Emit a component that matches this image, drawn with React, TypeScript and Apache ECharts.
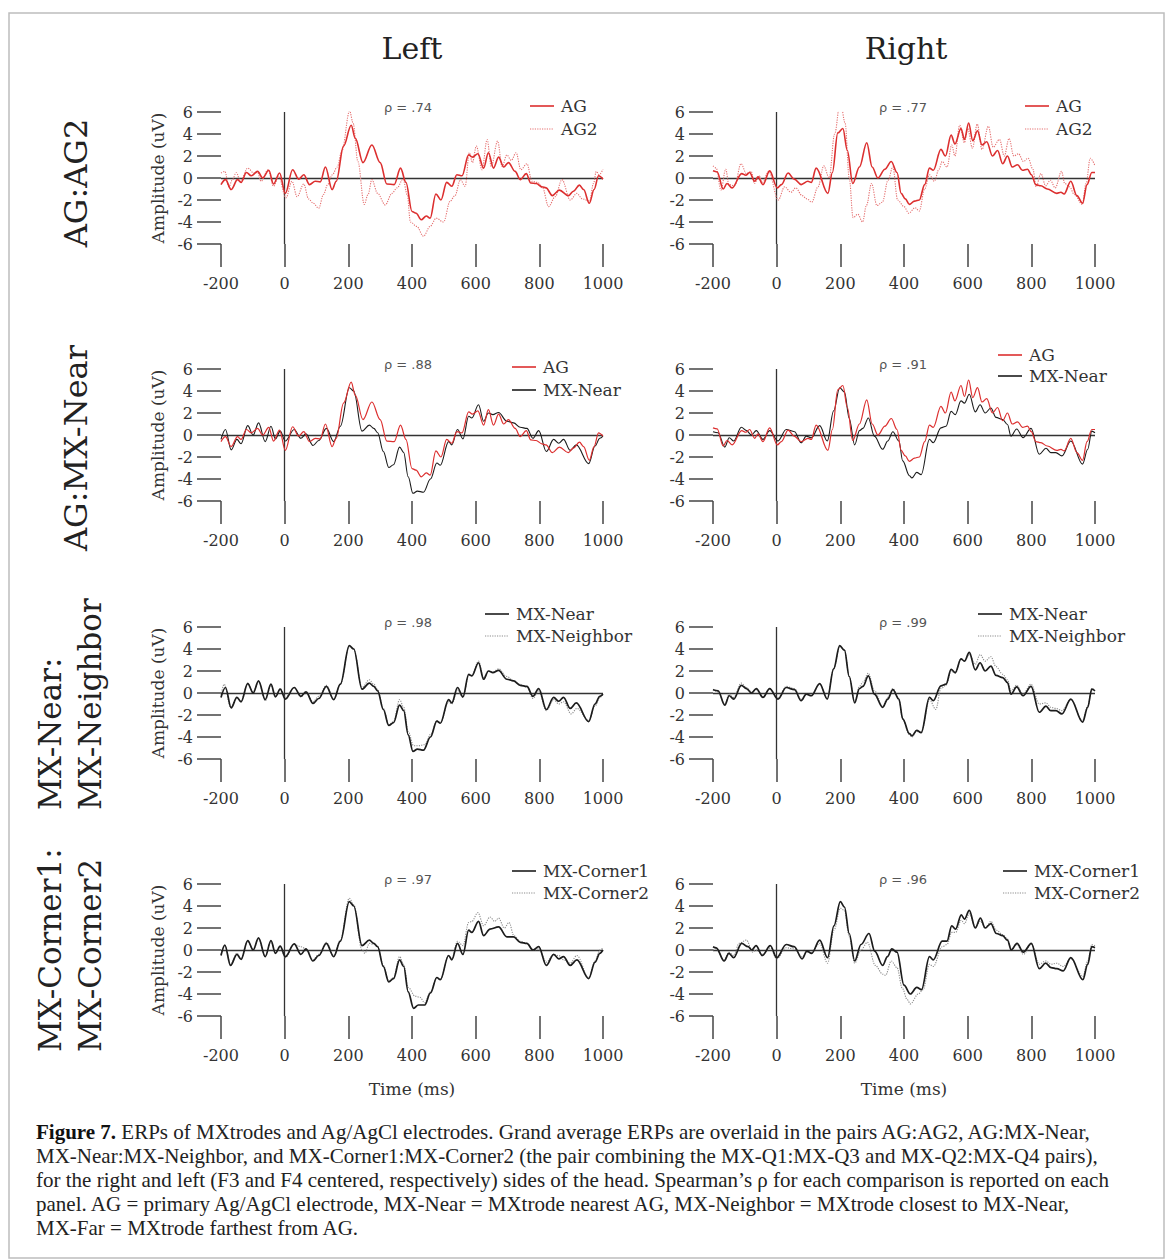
import React, { useEffect, useRef } from "react";
import * as echarts from "echarts";

type Pt = [number, number];

// ---------- data (time in ms, amplitude in uV) ----------
const timeTicks = [-200, 0, 200, 400, 600, 800, 1000];
const ampTicks = [-6, -4, -2, 0, 2, 4, 6];
const columnTitles = ["Left", "Right"];
const rowLabels = [["AG:AG2"], ["AG:MX-Near"], ["MX-Near:", "MX-Neighbor"], ["MX-Corner1:", "MX-Corner2"]];
const rhoValues = [".74", ".77", ".88", ".91", ".98", ".99", ".97", ".96"];

const agLeft: Pt[] = [[-200,-0.6],[-186,-0.15],[-168,-1.05],[-148,-0.15],[-137,-0.4],[-120,0.5],[-105,0.2],[-85,0.6],[-69,0.0],[-50,0.7],[-35,-0.55],[-16,0.45],[2,-1.4],[25,0.75],[44,-0.1],[60,0.3],[78,-0.6],[96,-0.3],[112,-0.35],[128,1.0],[149,-1.05],[162,-0.3],[185,2.9],[209,4.8],[222,3.6],[246,1.4],[274,3.0],[300,1.4],[321,-0.55],[344,-0.6],[364,0.9],[381,-0.4],[400,-3.05],[413,-3.2],[429,-3.8],[445,-3.45],[457,-3.65],[475,-1.45],[491,-2.0],[509,-0.4],[525,-0.75],[541,0.3],[557,0.2],[578,2.1],[590,1.9],[607,2.2],[625,0.9],[640,2.3],[656,0.9],[672,1.9],[688,1.0],[703,1.4],[724,0.6],[740,-0.15],[759,0.4],[773,-0.45],[790,-0.5],[808,-0.8],[821,-0.9],[841,-1.6],[863,-1.1],[891,-1.6],[907,-1.2],[926,-0.65],[939,-1.05],[957,-2.3],[972,-1.05],[986,0.2],[1000,-0.1]];
const ag2Left: Pt[] = [[-200,0.45],[-188,0.6],[-175,-0.8],[-165,-0.2],[-152,0.5],[-139,-0.3],[-116,0.9],[-97,0.45],[-85,0.5],[-74,-0.3],[-52,0.75],[-35,-0.75],[-19,0.15],[4,-1.8],[23,-0.3],[39,-1.7],[60,-0.55],[75,-1.9],[90,-2.3],[107,-2.75],[122,-1.5],[135,-0.6],[150,0.3],[165,1.0],[180,2.5],[204,6.1],[215,5.0],[230,1.5],[250,-2.4],[262,-1.5],[274,-0.15],[292,-1.4],[316,-2.45],[337,-1.4],[353,-0.9],[372,-0.1],[385,-1.5],[395,-4.0],[415,-4.4],[436,-5.3],[457,-4.4],[476,-3.65],[499,-4.0],[520,-2.1],[535,-1.6],[552,-0.15],[567,-0.75],[580,2.3],[590,1.4],[602,2.9],[620,0.75],[636,3.5],[649,1.05],[669,3.35],[683,1.05],[698,2.1],[712,1.6],[727,2.3],[742,0.75],[761,1.3],[777,-0.3],[795,-0.4],[810,-0.9],[829,-2.6],[850,-1.7],[871,-0.15],[897,-2.0],[918,-1.4],[935,-1.9],[958,-2.1],[970,-0.5],[979,0.6],[988,0.3],[1000,0.8]];
const agRight: Pt[] = [[-200,0.65],[-187,0.55],[-168,-1.0],[-156,-0.5],[-140,-0.9],[-110,0.4],[-97,0.25],[-85,0.5],[-69,-0.3],[-59,0.1],[-43,-0.6],[-22,0.65],[2,-0.9],[15,-0.6],[36,0.45],[55,-0.1],[77,-0.6],[98,-0.3],[109,-0.4],[124,0.9],[161,-1.4],[175,0.5],[192,4.1],[208,4.5],[222,2.5],[239,-0.5],[260,1.0],[283,3.2],[300,1.0],[318,0.0],[340,0.8],[360,1.5],[378,0.5],[391,-1.4],[404,-1.9],[417,-2.4],[433,-2.1],[448,-2.0],[465,-0.6],[480,0.9],[492,0.7],[516,2.6],[530,2.0],[548,3.9],[560,3.1],[579,4.5],[590,3.5],[603,5.0],[616,3.4],[631,4.3],[645,3.0],[660,3.3],[678,2.0],[694,2.5],[710,1.3],[725,2.0],[740,1.0],[757,1.2],[772,0.7],[788,0.8],[800,0.3],[814,-0.6],[830,-0.7],[850,-1.0],[880,-1.4],[893,-1.3],[903,-1.45],[924,-0.3],[943,-1.6],[961,-2.3],[975,-0.6],[990,0.5],[1000,0.5]];
const ag2Right: Pt[] = [[-200,1.1],[-190,0.9],[-175,-1.1],[-160,0.8],[-150,-0.6],[-132,-0.7],[-112,1.3],[-95,0.4],[-80,0.6],[-70,-0.5],[-55,0.2],[-45,-0.4],[-25,0.6],[5,-2.0],[25,-0.8],[45,-1.3],[60,-0.9],[80,-1.6],[95,-1.9],[110,-2.2],[130,-0.8],[148,1.1],[165,0.0],[182,4.0],[200,7.0],[215,5.0],[228,0.0],[240,-3.6],[255,-3.3],[270,-4.0],[282,-2.5],[298,-0.5],[315,-2.5],[332,-2.2],[350,-0.2],[365,1.0],[380,-2.0],[400,-2.6],[415,-3.2],[435,-2.7],[448,-3.0],[465,-1.0],[480,0.3],[495,-0.3],[510,0.8],[520,1.5],[535,1.0],[550,3.0],[560,2.0],[575,4.8],[590,3.2],[600,4.5],[615,2.7],[630,4.9],[645,2.6],[665,4.7],[680,2.8],[700,3.5],[715,2.0],[730,3.6],[745,2.0],[760,2.2],[775,1.5],[790,1.8],[805,0.8],[815,-0.8],[830,0.4],[845,-0.7],[860,-0.2],[875,-0.9],[895,0.6],[905,-0.5],[920,-0.8],[935,-1.5],[960,-2.4],[972,-0.5],[985,1.8],[1000,1.1]];
const mxNearLeft: Pt[] = [[-200,-0.4],[-186,0.5],[-168,-1.35],[-150,-0.4],[-137,-0.8],[-116,0.85],[-99,0.0],[-82,1.1],[-61,-0.6],[-43,0.8],[-29,-0.35],[-14,0.35],[2,-0.55],[30,0.5],[51,-0.3],[67,0.1],[89,-0.95],[107,-0.5],[131,0.6],[154,-0.6],[175,0.8],[203,4.3],[217,4.0],[243,0.35],[266,0.9],[280,0.6],[292,0.2],[310,-1.5],[327,-2.95],[342,-2.7],[361,-1.1],[374,-1.6],[388,-3.8],[403,-5.3],[417,-5.1],[436,-5.2],[458,-4.0],[478,-2.55],[489,-2.75],[515,-0.6],[525,-0.9],[543,0.5],[560,-0.35],[578,1.7],[588,1.55],[609,2.75],[625,1.25],[640,2.0],[654,1.85],[672,2.05],[698,1.25],[719,1.1],[740,0.7],[761,0.6],[780,-0.3],[798,0.4],[822,-1.5],[845,-0.4],[861,-0.75],[876,-0.4],[897,-1.4],[916,-0.9],[955,-2.6],[975,-1.0],[990,-0.3],[1000,-0.1]];
const mxNeighborLeft: Pt[] = [[-200,-0.2],[-190,0.8],[-170,-1.3],[-150,-0.4],[-137,-0.7],[-116,0.9],[-99,0.1],[-82,1.0],[-61,-0.7],[-43,0.7],[-29,-0.3],[-14,0.4],[2,-0.4],[30,0.5],[51,-0.35],[67,0.15],[89,-0.8],[107,-0.3],[131,0.7],[154,-0.55],[175,0.8],[203,4.2],[217,4.0],[243,0.5],[266,1.2],[280,0.8],[292,0.3],[310,-1.4],[327,-2.9],[342,-2.6],[361,-0.6],[374,-1.3],[388,-3.5],[405,-4.8],[420,-4.8],[440,-4.7],[460,-3.7],[478,-2.5],[489,-2.7],[515,-0.8],[525,-1.0],[543,0.3],[560,-0.4],[578,1.6],[588,1.6],[609,2.9],[625,1.4],[640,2.0],[654,1.9],[672,2.2],[698,1.5],[719,1.1],[740,0.8],[761,0.5],[780,-0.5],[798,0.2],[822,-1.6],[845,-0.6],[861,-1.0],[876,-0.8],[900,-1.9],[918,-1.4],[955,-2.5],[975,-1.2],[990,-0.4],[1000,-0.1]];
const mxNearRight: Pt[] = [[-200,0.3],[-184,0.2],[-163,-1.1],[-149,-0.25],[-135,-0.55],[-111,0.7],[-95,0.4],[-79,0.0],[-64,0.4],[-43,-0.4],[-22,0.4],[4,-0.55],[30,0.5],[56,0.3],[77,-0.7],[93,-0.1],[109,-0.25],[135,0.85],[159,-0.55],[179,2.2],[198,4.3],[213,3.9],[228,1.5],[245,-0.9],[260,0.4],[271,0.6],[288,1.55],[307,-0.1],[333,-1.3],[349,-0.55],[365,0.3],[384,-0.55],[396,-2.35],[417,-3.7],[425,-3.9],[440,-3.4],[454,-3.6],[480,-0.4],[492,-0.7],[516,0.65],[532,0.8],[548,2.15],[561,1.85],[579,3.1],[590,2.9],[605,3.7],[624,2.1],[639,2.75],[655,2.0],[673,2.45],[689,1.6],[710,1.4],[725,0.95],[736,-0.1],[754,0.55],[774,-0.25],[799,0.6],[825,-1.75],[846,-1.2],[861,-1.6],[877,-1.6],[896,-1.9],[924,-0.55],[961,-2.65],[977,-1.3],[990,0.35],[1000,0.2]];
const mxNeighborRight: Pt[] = [[-200,0.35],[-184,0.1],[-163,-1.0],[-149,-0.1],[-135,-0.4],[-111,0.9],[-95,0.5],[-79,0.1],[-64,0.3],[-43,-0.35],[-22,0.35],[4,-0.45],[30,0.6],[56,0.4],[77,-0.6],[93,-0.1],[109,-0.2],[135,0.8],[159,-0.5],[179,2.2],[198,4.2],[213,3.9],[228,1.5],[245,-0.8],[260,0.6],[271,1.0],[288,1.8],[307,0.2],[333,-1.2],[349,-0.4],[365,0.4],[384,-0.6],[396,-2.4],[417,-3.8],[425,-4.0],[440,-3.5],[454,-3.6],[480,-0.6],[500,-1.5],[516,0.4],[532,0.7],[548,2.0],[561,1.8],[579,3.1],[590,2.9],[605,3.5],[624,2.6],[639,3.5],[655,2.9],[673,3.3],[689,2.4],[710,1.7],[725,1.2],[736,0.2],[754,0.7],[774,-0.1],[799,0.8],[825,-1.0],[846,-0.9],[861,-1.3],[877,-1.4],[896,-1.6],[924,-0.6],[961,-2.5],[977,-1.2],[990,0.4],[1000,0.25]];
const corner1Left: Pt[] = [[-200,-0.5],[-188,0.45],[-170,-1.4],[-150,-0.4],[-137,-0.85],[-116,0.85],[-99,0.0],[-82,1.1],[-61,-0.6],[-43,0.85],[-29,-0.3],[-14,0.35],[2,-0.6],[30,0.55],[51,-0.4],[67,0.1],[89,-1.0],[107,-0.5],[131,0.6],[154,-0.6],[175,0.8],[203,4.4],[217,4.0],[243,0.4],[266,0.9],[280,0.6],[292,0.3],[310,-1.5],[327,-2.9],[342,-2.6],[361,-0.9],[374,-1.5],[388,-3.8],[405,-5.3],[420,-5.0],[440,-5.0],[458,-3.9],[478,-2.5],[489,-2.7],[515,-0.5],[525,-0.9],[543,0.6],[560,-0.4],[578,1.8],[588,1.6],[609,2.6],[625,1.3],[645,1.9],[672,2.1],[698,1.2],[719,1.2],[740,0.7],[761,0.6],[780,0.0],[798,0.3],[822,-1.4],[845,-0.4],[861,-0.8],[876,-0.6],[897,-1.4],[918,-0.9],[955,-2.6],[975,-1.1],[990,-0.3],[1000,0.0]];
const corner2Left: Pt[] = [[-200,-0.4],[-188,0.4],[-170,-1.3],[-150,-0.3],[-137,-0.8],[-116,0.8],[-99,0.0],[-82,1.0],[-61,-0.6],[-43,0.8],[-29,-0.3],[-14,0.3],[2,-0.7],[30,0.5],[51,0.3],[67,0.1],[89,-0.9],[107,-0.4],[131,0.7],[154,-0.5],[175,0.9],[203,4.7],[217,4.1],[243,0.0],[252,-0.3],[266,0.6],[280,0.5],[292,0.3],[310,-1.4],[327,-2.8],[342,-2.5],[361,-0.6],[374,-1.3],[388,-3.4],[410,-4.2],[425,-4.3],[440,-4.8],[458,-3.8],[478,-2.5],[489,-2.7],[515,-0.5],[525,-0.8],[543,0.8],[560,0.4],[578,2.5],[588,2.6],[607,3.4],[625,2.2],[645,3.0],[660,2.6],[672,2.9],[690,2.0],[705,2.5],[720,1.3],[740,0.8],[761,0.6],[780,0.0],[798,0.1],[822,-1.1],[845,-0.4],[861,-0.5],[876,-0.9],[897,-1.2],[918,-0.5],[955,-2.5],[975,-1.0],[990,0.0],[1000,0.2]];
const corner1Right: Pt[] = [[-200,0.3],[-190,0.2],[-165,-1.0],[-150,-0.3],[-135,-0.7],[-110,0.6],[-90,0.3],[-78,0.0],[-65,0.4],[-45,-0.5],[-20,0.4],[0,-0.7],[30,0.5],[55,0.3],[80,-0.8],[95,-0.1],[110,-0.3],[135,0.9],[160,-0.7],[180,2.2],[200,4.4],[213,3.9],[228,1.5],[245,-1.0],[265,0.5],[290,1.5],[308,-0.1],[333,-1.4],[348,-0.6],[362,0.1],[378,-0.2],[400,-3.2],[420,-4.0],[440,-3.4],[455,-3.6],[480,-0.6],[492,-0.9],[520,0.8],[535,0.8],[550,2.2],[562,1.9],[580,3.2],[590,2.8],[605,3.6],[624,2.0],[640,2.9],[655,2.0],[673,2.4],[690,1.5],[710,1.3],[725,0.9],[737,0.0],[755,0.6],[775,-0.2],[800,0.6],[825,-1.7],[845,-1.2],[862,-1.6],[880,-1.7],[900,-1.9],[924,-0.7],[962,-2.7],[977,-1.3],[990,0.3],[1000,0.2]];
const corner2Right: Pt[] = [[-200,0.0],[-190,0.1],[-165,-0.9],[-150,-0.2],[-135,-0.5],[-118,0.6],[-95,0.9],[-75,-0.2],[-65,0.0],[-45,-0.4],[-20,0.2],[0,-0.8],[30,0.2],[55,0.1],[80,-0.6],[95,-0.2],[110,-0.2],[135,0.6],[160,-1.2],[180,1.8],[200,3.8],[213,3.6],[228,1.2],[245,-1.2],[265,0.0],[285,0.7],[310,-1.4],[333,-2.2],[342,-2.3],[360,-1.0],[378,-1.6],[395,-3.5],[410,-4.5],[420,-4.9],[445,-4.0],[460,-3.6],[480,-1.3],[492,-1.5],[520,0.3],[535,0.5],[550,1.6],[562,1.6],[580,2.7],[590,2.4],[605,3.3],[624,2.1],[640,2.6],[655,2.0],[673,2.6],[690,1.8],[710,1.4],[725,1.0],[737,0.1],[755,0.5],[775,-0.4],[800,0.5],[825,-1.3],[845,-1.0],[862,-1.3],[880,-1.2],[900,-1.5],[924,-0.8],[962,-2.4],[977,-1.0],[990,0.5],[1000,0.4]];

const captionLines = [
  "ERPs of MXtrodes and Ag/AgCl electrodes. Grand average ERPs are overlaid in the pairs AG:AG2, AG:MX-Near,",
  "MX-Near:MX-Neighbor, and MX-Corner1:MX-Corner2 (the pair combining the MX-Q1:MX-Q3 and MX-Q2:MX-Q4 pairs),",
  "for the right and left (F3 and F4 centered, respectively) sides of the head. Spearman\u2019s \u03c1 for each comparison is reported on each",
  "panel. AG = primary Ag/AgCl electrode, MX-Near = MXtrode nearest AG, MX-Neighbor = MXtrode closest to MX-Near,",
  "MX-Far = MXtrode farthest from AG.",
];

// ---------- styles / layout ----------
const RED = "#dc2f2f";
const LIGHT_RED = "#e56f6f";
const BLACK = "#1c1c1c";
const GRAY = "#8c8c8c";
const AXIS = "#454545";
const SERIF = "DejaVu Serif";

type LineSpec = { name: string; data: Pt[]; color: string; width: number; dotted: boolean };
type Panel = { a: LineSpec; b: LineSpec; legend: [number, number, number] };

const S = (name: string, data: Pt[], color: string, width: number, dotted: boolean): LineSpec => ({ name, data, color, width, dotted });

// legend: [icon x, first row y, second row y]
const panels: Panel[] = [
  { a: S("AG", agLeft, RED, 1.6, false), b: S("AG2", ag2Left, LIGHT_RED, 1.1, true), legend: [530, 106, 129] },
  { a: S("AG", agRight, RED, 1.6, false), b: S("AG2", ag2Right, LIGHT_RED, 1.1, true), legend: [1025, 106, 129] },
  { a: S("AG", agLeft, RED, 1.2, false), b: S("MX-Near", mxNearLeft, BLACK, 1.1, false), legend: [512, 367, 390] },
  { a: S("AG", agRight, RED, 1.2, false), b: S("MX-Near", mxNearRight, BLACK, 1.1, false), legend: [998, 355, 376] },
  { a: S("MX-Near", mxNearLeft, BLACK, 1.7, false), b: S("MX-Neighbor", mxNeighborLeft, GRAY, 1.1, true), legend: [485, 614, 636] },
  { a: S("MX-Near", mxNearRight, BLACK, 1.7, false), b: S("MX-Neighbor", mxNeighborRight, GRAY, 1.1, true), legend: [978, 614, 636] },
  { a: S("MX-Corner1", corner1Left, BLACK, 1.7, false), b: S("MX-Corner2", corner2Left, GRAY, 1.1, true), legend: [512, 871, 893] },
  { a: S("MX-Corner1", corner1Right, BLACK, 1.7, false), b: S("MX-Corner2", corner2Right, GRAY, 1.1, true), legend: [1003, 871, 893] },
];

const colLeft = [221, 713];
const plotW = 382;
const rowTop = [112, 369, 627, 884];
const plotH = 132;
const rhoX = [408, 903];

function buildOption() {
  const grid: any[] = [];
  const xAxis: any[] = [];
  const yAxis: any[] = [];
  const series: any[] = [];
  const graphic: any[] = [];

  panels.forEach((p, i) => {
    const r = Math.floor(i / 2);
    const c = i % 2;
    grid.push({ left: colLeft[c], top: rowTop[r], width: plotW, height: plotH });
    xAxis.push({
      gridIndex: i, type: "value", position: "bottom",
      min: timeTicks[0], max: timeTicks[timeTicks.length - 1], interval: 200,
      axisLine: { show: false, onZero: false },
      axisTick: { show: true, length: 23, lineStyle: { color: AXIS, width: 1.5 } },
      axisLabel: { margin: 31, fontFamily: SERIF, fontSize: 16, color: "#333", formatter: (v: number) => String(v) },
      splitLine: { show: false },
      name: r === 3 ? "Time (ms)" : "",
      nameLocation: "middle", nameGap: 64,
      nameTextStyle: { fontFamily: SERIF, fontSize: 17, color: "#333" },
    });
    yAxis.push({
      gridIndex: i, type: "value", position: "left",
      min: ampTicks[0], max: ampTicks[ampTicks.length - 1], interval: 2,
      axisLine: { show: false, onZero: false },
      axisTick: { show: true, length: 24, lineStyle: { color: AXIS, width: 1.5 } },
      axisLabel: { margin: 28, fontFamily: SERIF, fontSize: 16, color: "#333", formatter: (v: number) => String(v) },
      splitLine: { show: false },
      name: c === 0 ? "Amplitude (uV)" : "",
      nameLocation: "middle", nameGap: 55, nameRotate: 90,
      nameTextStyle: { fontFamily: SERIF, fontSize: 17, color: "#333" },
    });
    [p.b, p.a].forEach((s, k) => {
      series.push({
        type: "line", name: s.name, xAxisIndex: i, yAxisIndex: i, data: s.data,
        symbol: "none", showSymbol: false, smooth: 0.35, smoothMonotone: "x",
        lineStyle: { color: s.color, width: s.width, type: s.dotted ? [1.2, 1.2] : "solid" },
        itemStyle: { color: s.color }, silent: true, z: 3 + k,
        markLine: k === 0 ? {
          silent: true, symbol: ["none", "none"], label: { show: false },
          lineStyle: { color: "#333", width: 1.3, type: "solid" },
          emphasis: { disabled: true },
          data: [{ yAxis: 0 }, { xAxis: 0 }],
          z: 2,
        } : undefined,
      });
    });
    // rho annotation
    graphic.push({
      type: "text", x: rhoX[c], y: rowTop[r] - 5,
      style: { text: "\u03c1 = " + rhoValues[i], fontFamily: "DejaVu Sans", fontSize: 13, fill: "#555", align: "center", verticalAlign: "middle" },
    });
    // legend
    const [lx, y1, y2] = p.legend;
    [[p.a, y1], [p.b, y2]].forEach(([s, y]: any) => {
      graphic.push({
        type: "line", shape: { x1: lx, y1: y, x2: lx + 24, y2: y },
        style: { stroke: s.color, lineWidth: s.dotted ? 1.2 : 1.6, lineDash: s.dotted ? [1.2, 1.2] : null },
      });
      graphic.push({
        type: "text", x: lx + 31, y,
        style: { text: s.name, fontFamily: SERIF, fontSize: 17, fill: "#333", align: "left", verticalAlign: "middle" },
      });
    });
  });

  // frame
  graphic.push({ type: "rect", shape: { x: 9, y: 13, width: 1155, height: 1245 }, style: { fill: "none", stroke: "#bdbdbd", lineWidth: 1.5 }, z: -1 });
  // column titles
  [412, 906].forEach((x, c) => {
    graphic.push({ type: "text", x, y: 48, style: { text: columnTitles[c], fontFamily: SERIF, fontSize: 30, fill: "#222", align: "center", verticalAlign: "middle" } });
  });
  // row labels (rotated)
  const rowCenters = [183, 448];
  rowLabels.forEach((lines, r) => {
    if (lines.length === 1) {
      graphic.push({ type: "text", x: 76, y: rowCenters[r], rotation: Math.PI / 2,
        style: { text: lines[0], fontFamily: SERIF, fontSize: 32, fill: "#222", align: "center", verticalAlign: "middle" } });
    } else {
      const startY = r === 2 ? 810 : 1052;
      lines.forEach((t, k) => {
        graphic.push({ type: "text", x: 50 + k * 40, y: startY, rotation: Math.PI / 2,
          style: { text: t, fontFamily: SERIF, fontSize: 31, fill: "#222", align: "left", verticalAlign: "middle" } });
      });
    }
  });
  // caption
  const CAP = 21;
  captionLines.forEach((t, k) => {
    graphic.push({
      type: "text", x: 36, y: 1132 + k * 24,
      style: k === 0 ? {
        text: "{b|Figure 7.} " + t,
        rich: { b: { fontFamily: "Liberation Serif", fontWeight: "bold", fontSize: CAP, fill: "#111" } },
        fontFamily: "Liberation Serif", fontSize: CAP, fill: "#222", align: "left", verticalAlign: "middle",
      } : { text: t, fontFamily: "Liberation Serif", fontSize: CAP, fill: "#222", align: "left", verticalAlign: "middle" },
    });
  });

  return {
    animation: false,
    backgroundColor: "#ffffff",
    textStyle: { fontFamily: SERIF },
    grid, xAxis, yAxis, series, graphic,
  };
}

export default function App() {
  const ref = useRef<HTMLDivElement>(null);
  useEffect(() => {
    if (!ref.current) return;
    const chart = echarts.init(ref.current, undefined, { renderer: "svg" });
    chart.setOption(buildOption() as any);
    return () => chart.dispose();
  }, []);
  return (
    <div
      ref={ref}
      style={{ position: "fixed", left: 0, top: 0, width: 1171, height: 1260, background: "#fff" }}
    />
  );
}
